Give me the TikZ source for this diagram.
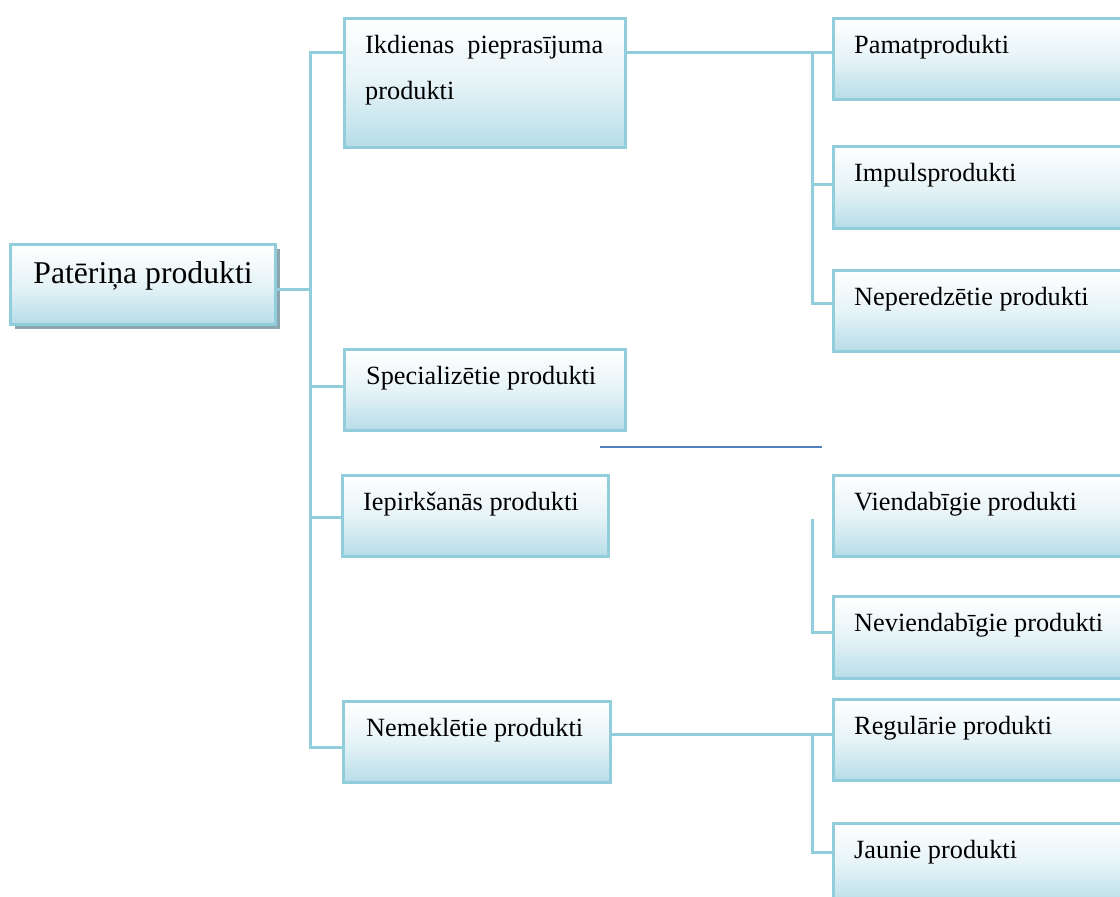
\documentclass[tikz,border=0pt]{standalone}
\usepackage{fontspec}
\setmainfont{Liberation Serif}
\usetikzlibrary{shadows}
\definecolor{edgeblue}{RGB}{146,205,220}
\definecolor{fillblue}{RGB}{183,221,232}
\definecolor{shadegray}{RGB}{140,166,176}
\definecolor{ruleblue}{RGB}{79,129,189}
\begin{document}
\begin{tikzpicture}[x=1pt,y=-1pt,
  box/.style={draw=edgeblue, line width=3pt, top color=white, bottom color=fillblue,
    middle color=fillblue!35!white, anchor=north west, inner sep=0pt, rectangle},
  conn/.style={draw=edgeblue, line width=3pt},
  lbl/.style={font=\fontsize{26.3}{46}\selectfont, inner sep=0pt, anchor=base west},
  rootlbl/.style={font=\fontsize{31.7}{38}\selectfont, inner sep=0pt, anchor=base}]
\useasboundingbox (0,0) rectangle (1120,897);
\clip (0,0) rectangle (1120,897);

% junction points on the vertical spines
\coordinate (tk0) at (310,289);
\coordinate (tk2) at (310,386);
\coordinate (tk3) at (310,517);
\coordinate (r1) at (812,52);
\coordinate (r2) at (812,184);
\coordinate (r3) at (812,303);
\coordinate (v1) at (812,519);
\coordinate (v2) at (812,632);
\coordinate (n1) at (812,734);
\coordinate (n2) at (812,852);
\coordinate (s1) at (600,447);
\coordinate (s2) at (822,447);

% boxes
\node[box, drop shadow={shadow xshift=4pt, shadow yshift=-4pt, fill=shadegray, opacity=1},
  minimum width=265pt, minimum height=80pt] (root) at (9,243) {};
\node[box, minimum width=281pt, minimum height=129pt] (ikd) at (343,17) {};
\node[box, minimum width=281pt, minimum height=81pt] (spec) at (343,348) {};
\node[box, minimum width=266pt, minimum height=81pt] (iep) at (341,474) {};
\node[box, minimum width=267pt, minimum height=81pt] (nem) at (342,700) {};
\node[box, minimum width=300pt, minimum height=81pt] (pam) at (832,17) {};
\node[box, minimum width=300pt, minimum height=82pt] (imp) at (832,145) {};
\node[box, minimum width=300pt, minimum height=81pt] (nep) at (832,269) {};
\node[box, minimum width=300pt, minimum height=81pt] (vien) at (832,474) {};
\node[box, minimum width=300pt, minimum height=82pt] (nevi) at (832,595) {};
\node[box, minimum width=300pt, minimum height=81pt] (reg) at (832,698) {};
\node[box, minimum width=300pt, minimum height=81pt] (jau) at (832,822) {};

% connectors
\draw[conn] (root.east |- tk0) -- (tk0);
\draw[conn] ([yshift=-35pt]ikd.north west) -| (310,747) -- ([yshift=-47pt]nem.north west);
\draw[conn] (tk2) -- (spec.west |- tk2);
\draw[conn] (tk3) -- (iep.west |- tk3);
\draw[conn] ([yshift=-35pt]ikd.north east) -- (pam.west |- r1);
\draw[conn] (r1) -- (r3) -- (nep.west |- r3);
\draw[conn] (r2) -- (imp.west |- r2);
\draw[conn] (v1) -- (v2) -- (nevi.west |- v2);
\draw[conn] ([yshift=-34pt]nem.north east) -- (reg.west |- n1);
\draw[conn] (n1) -- (n2) -- (jau.west |- n2);
\draw[ruleblue, line width=1.8pt] (s1) -- (s2);

% labels
\node[rootlbl] (root-t) at ([yshift=-40pt]root.north) {Patēriņa produkti};
\node[lbl] (ikd-t) at ([xshift=22pt,yshift=-36pt]ikd.north west)
  {\parbox[t]{238pt}{\makebox[238pt][s]{Ikdienas pieprasījuma}\\produkti}};
\node[lbl] (spec-t) at ([xshift=23pt,yshift=-36pt]spec.north west) {Specializētie produkti};
\node[lbl] (iep-t) at ([xshift=22pt,yshift=-36pt]iep.north west) {Iepirkšanās produkti};
\node[lbl] (nem-t) at ([xshift=24pt,yshift=-36pt]nem.north west) {Nemeklētie produkti};
\node[lbl] (pam-t) at ([xshift=22pt,yshift=-36pt]pam.north west) {Pamatprodukti};
\node[lbl] (imp-t) at ([xshift=22pt,yshift=-36pt]imp.north west) {Impulsprodukti};
\node[lbl] (nep-t) at ([xshift=22pt,yshift=-36pt]nep.north west) {Neperedzētie produkti};
\node[lbl] (vien-t) at ([xshift=22pt,yshift=-36pt]vien.north west) {Viendabīgie produkti};
\node[lbl] (nevi-t) at ([xshift=22pt,yshift=-36pt]nevi.north west) {Neviendabīgie produkti};
\node[lbl] (reg-t) at ([xshift=22pt,yshift=-36pt]reg.north west) {Regulārie produkti};
\node[lbl] (jau-t) at ([xshift=22pt,yshift=-36pt]jau.north west) {Jaunie produkti};
\end{tikzpicture}
\end{document}
